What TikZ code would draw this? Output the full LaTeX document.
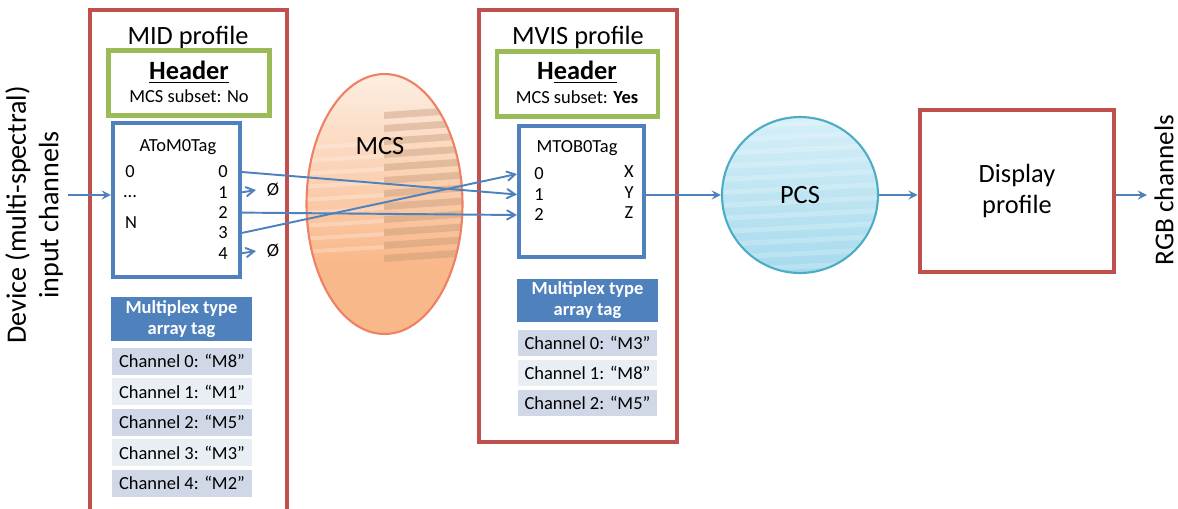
\documentclass[tikz,border=0pt]{standalone}
\usepackage{fontspec}
\setmainfont{Carlito}
\usepackage{xcolor}
\usepackage{tikz}
\usetikzlibrary{shapes,arrows,positioning,calc}
\definecolor{profred}{RGB}{192,80,77}
\definecolor{hdrgreen}{RGB}{155,187,89}
\definecolor{tagblue}{RGB}{79,129,189}
\definecolor{rowdark}{RGB}{208,216,232}
\definecolor{rowlight}{RGB}{233,237,244}
\definecolor{mcsline}{RGB}{240,128,100}
\definecolor{mcstop}{RGB}{253,238,226}
\definecolor{mcsbot}{RGB}{249,184,138}
\definecolor{mcsstripe}{RGB}{190,150,115}
\definecolor{pcsline}{RGB}{75,172,198}
\definecolor{pcstop}{RGB}{214,239,248}
\definecolor{pcsbot}{RGB}{166,218,236}
\newcommand{\lgtxt}{\fontsize{15}{18}\selectfont}
\newcommand{\smtxt}{\fontsize{10.5}{12}\selectfont}
\tikzset{
    profile/.style={draw=profred, rectangle, line width=2.7pt},
    header/.style={draw=hdrgreen, rectangle, line width=2.4pt, minimum width=3.22cm, minimum height=1.3cm},
    tagbox/.style={draw=tagblue, rectangle, line width=2.4pt, fill=white},
    lbl/.style={inner sep=0pt, font=\smtxt},
    title/.style={inner sep=0pt, font=\lgtxt},
    muxhead/.style={fill=tagblue, text=white, font=\smtxt\bfseries, align=center, minimum width=2.82cm, minimum height=0.87cm, inner sep=0pt},
    rowdk/.style={fill=rowdark, font=\smtxt, minimum width=2.8cm, minimum height=0.54cm, inner sep=0pt},
    rowlt/.style={rowdk, fill=rowlight},
    arrow/.style={->, >=stealth, line width=1.3pt, draw=tagblue},
    link/.style={->, >=angle 60, line width=1.1pt, draw=tagblue}
}

\begin{document}
\begin{tikzpicture}[x=0.02cm, y=-0.02cm]
    \useasboundingbox (0,0) rectangle (1178,508);

    % MID profile
    \node[profile, minimum width=3.94cm, minimum height=10.4cm] (mid) at (188.5,270) {};
    \node[title] (midtitle) at (188,37) {MID profile};
    \node[header] (midhdr) at (189,83) {};
    \node[title, font=\lgtxt\bfseries] (midhead) at (189,72) {\underline{Header}};
    \node[lbl] (midsub) at (189,96) {MCS subset: No};
    \node[tagbox, minimum width=2.54cm, minimum height=3.08cm] (atom) at (176.5,200) {};
    \node[lbl] (atomtitle) at (178,147) {AToM0Tag};
    \node[lbl] (in0) at (130,172) {0};
    \node[lbl, anchor=base] (indots) at (130,197) {...};
    \node[lbl] (inN) at (131,223) {N};
    \foreach \i in {0,1,2,3,4} {
        \node[lbl] (a\i) at (223,{172+20.3*\i}) {\i};
    }
    \node[lbl] (n1) at (273,190) {Ø};
    \node[lbl] (n4) at (273,251) {Ø};
    \node[muxhead] (lmux) at (181.5,319) {Multiplex type\\array tag};
    \foreach \i/\m/\s in {0/M8/rowdk, 1/M1/rowlt, 2/M5/rowdk, 3/M3/rowlt, 4/M2/rowdk} {
        \node[\s] (lrow\i) at (182,{361+30.6*\i}) {Channel \i: “\m”};
    }

    % MVIS profile
    \node[profile, minimum width=3.96cm, minimum height=8.64cm] (mvis) at (578,226) {};
    \node[title] (mvistitle) at (578,37) {MVIS profile};
    \node[header] (mvishdr) at (577.5,84) {};
    \node[title, font=\lgtxt\bfseries] (mvishead) at (577,72) {H\underline{eader}};
    \node[lbl] (mvissub) at (577,97) {MCS subset: \textbf{Yes}};
    \node[tagbox, minimum width=2.5cm, minimum height=2.62cm] (mtob) at (581.5,191.5) {};
    \node[lbl] (mtobtitle) at (577,148) {MTOB0Tag};
    \foreach \i/\o in {0/X,1/Y,2/Z} {
        \node[lbl] (m\i) at (539,{174+20.5*\i}) {\i};
        \node[lbl] (o\o) at (629,{172+20.5*\i}) {\o};
    }
    \node[muxhead] (rmux) at (587.5,300.5) {Multiplex type\\array tag};
    \foreach \i/\m/\s in {0/M3/rowdk, 1/M8/rowlt, 2/M5/rowdk} {
        \node[\s, minimum height=0.52cm] (rrow\i) at (587.5,{343+29.8*\i}) {Channel \i: “\m”};
    }

    % MCS
    \begin{scope}
        \clip (384.5,204) ellipse [x radius=78, y radius=130];
        \shade[top color=mcstop, bottom color=mcsbot] (300,74) rectangle (470,263);
        \fill[mcsbot] (300,263) rectangle (470,340);
        \foreach \k in {0,...,11} {
            \fill[mcsstripe, opacity=0.4] (384,{112+13*\k}) -- ++(86,-6) -- ++(0,7) -- ++(-86,6) -- cycle;
        }
        \foreach \k in {0,...,8} {
            \fill[white, opacity=0.25] (300,{146+13*\k}) -- ++(84,-5) -- ++(0,4) -- ++(-84,5) -- cycle;
        }
    \end{scope}
    \node[ellipse, draw=mcsline, line width=1.2pt, minimum width=3.12cm, minimum height=5.2cm, inner sep=0pt] (mcs) at (384.5,204) {};
    \node[title] (mcslbl) at (380,146) {MCS};

    % PCS
    \begin{scope}
        \clip (800,195) circle [radius=78];
        \shade[top color=pcstop, bottom color=pcsbot] (720,117) rectangle (880,273);
        \foreach \k in {0,...,11} {
            \fill[white, opacity=0.2] (720,{125+13*\k}) -- ++(160,-8) -- ++(0,5) -- ++(-160,8) -- cycle;
        }
    \end{scope}
    \node[circle, draw=pcsline, line width=1.2pt, minimum size=3.12cm, inner sep=0pt] (pcs) at (800,195) {};
    \node[title] (pcslbl) at (800,195) {PCS};

    % Display profile
    \node[profile, minimum width=3.88cm, minimum height=3.24cm, align=center, font=\lgtxt] (disp) at (1017,191) {Display\\profile};

    % side labels
    \node[rotate=90, align=center, font=\fontsize{16}{18.5}\selectfont] (device) at (34,215) {Device (multi-spectral)\\input channels};
    \node[rotate=90, inner sep=0pt, font=\fontsize{15.5}{18}\selectfont] (rgb) at (1164,190) {RGB channels};
    \coordinate (devin) at (68,195);
    \coordinate (rgbout) at (1147,195);

    % connectors
    \draw[arrow] (devin) -- (atom.west |- devin);
    \draw[link] (a1.east -| atom.east) -- ([xshift=-6pt]n1.west);
    \draw[link] (a4.east -| atom.east) -- ([xshift=-6pt]n4.west);
    \draw[link] (a0.east -| atom.east) -- (mtob.west |- m1);
    \draw[link] (a2.east -| atom.east) -- (mtob.west |- m2);
    \draw[link] (a3.east -| atom.east) -- (mtob.west |- m0);
    \draw[arrow] (mtob.east |- pcs.west) -- (pcs.west);
    \draw[arrow] (pcs.east) -- (disp.west |- pcs.east);
    \draw[arrow] (disp.east |- rgbout) -- (rgbout);
\end{tikzpicture}
\end{document}
